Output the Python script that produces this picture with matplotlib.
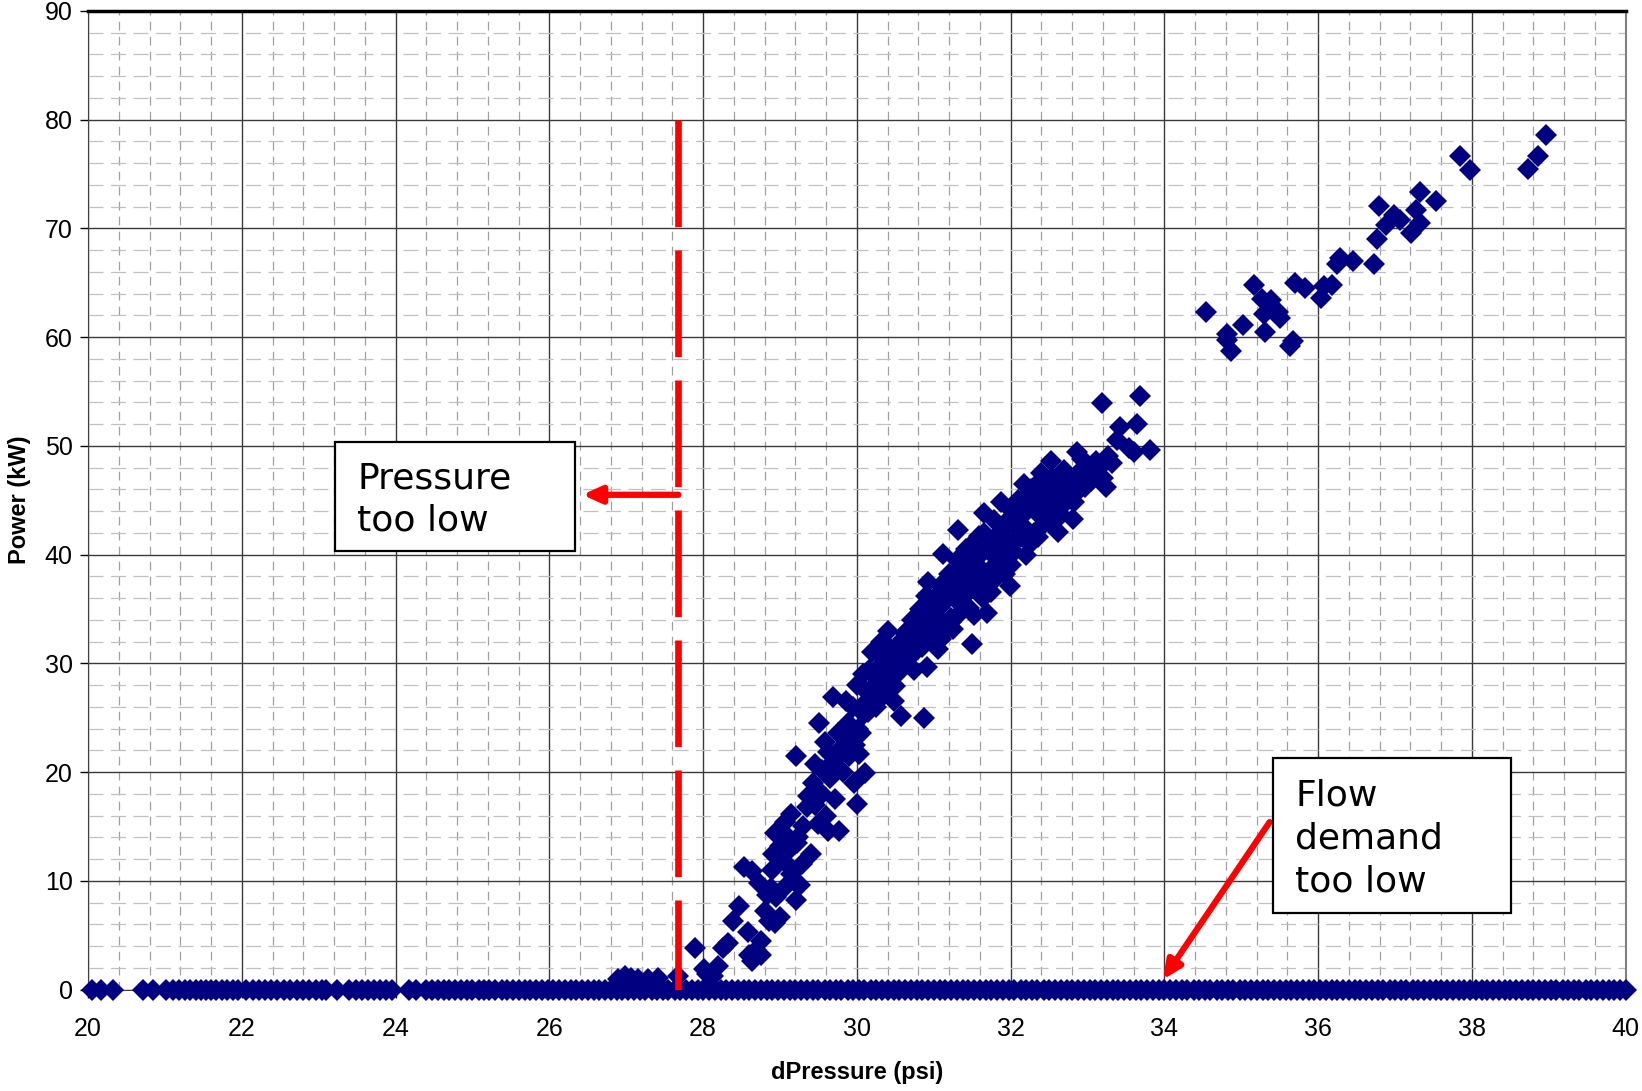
import matplotlib
matplotlib.use("Agg")
import matplotlib.pyplot as plt
from matplotlib.patches import Rectangle
from matplotlib.ticker import MultipleLocator

# ---------------- data ----------------
# points lying at zero power (compressor off)
zero_x = [20.05, 20.17, 20.32, 20.71, 20.85, 21.02, 21.1, 21.18, 21.26, 21.33, 21.4, 21.47,
          21.54, 21.6, 21.67, 21.74, 21.81, 21.88, 21.95, 22.06, 22.14, 22.22, 22.3, 22.38,
          22.46, 22.55, 22.63, 22.72, 22.8, 22.88, 22.96, 23.04, 23.1, 23.24, 23.4, 23.48,
          23.56, 23.64, 23.72, 23.8, 23.88, 23.96, 24.18, 24.27, 24.4, 24.48, 24.55, 24.63,
          24.7, 24.78, 24.85, 24.93, 25.0, 25.08, 25.15, 25.22, 25.3, 25.38, 25.45, 25.53,
          25.6, 25.68, 25.75, 25.83, 25.9, 25.98, 26.05, 26.13, 26.2, 26.28, 26.35, 26.43,
          26.5, 26.58, 26.65, 26.73, 26.8, 26.88, 26.95, 27.03, 27.1, 27.18, 27.25, 27.33,
          27.4, 27.48, 27.55, 27.63, 27.7, 27.78, 27.85, 27.93, 28.0, 28.08, 28.15, 28.23,
          28.3, 28.38, 28.45, 28.53, 28.6, 28.68, 28.75, 28.83, 28.9, 28.98, 29.05, 29.13,
          29.2, 29.28, 29.35, 29.43, 29.5, 29.58, 29.65, 29.73, 29.8, 29.88, 29.95, 30.03,
          30.1, 30.18, 30.25, 30.33, 30.4, 30.48, 30.55, 30.63, 30.7, 30.78, 30.85, 30.93,
          31.0, 31.08, 31.15, 31.23, 31.3, 31.38, 31.45, 31.53, 31.6, 31.68, 31.75, 31.83,
          31.9, 31.98, 32.05, 32.13, 32.2, 32.28, 32.35, 32.43, 32.5, 32.58, 32.65, 32.73,
          32.8, 32.88, 32.95, 33.03, 33.1, 33.18, 33.25, 33.33, 33.4, 33.48, 33.55, 33.63,
          33.7, 33.78, 33.85, 33.93, 34.0, 34.08, 34.15, 34.23, 34.3, 34.38, 34.45, 34.53,
          34.6, 34.68, 34.75, 34.83, 34.9, 34.98, 35.05, 35.13, 35.2, 35.28, 35.35, 35.43,
          35.5, 35.58, 35.65, 35.73, 35.8, 35.88, 35.95, 36.03, 36.1, 36.18, 36.25, 36.33,
          36.4, 36.48, 36.55, 36.63, 36.7, 36.78, 36.85, 36.93, 37.0, 37.08, 37.15, 37.23,
          37.3, 37.38, 37.45, 37.53, 37.6, 37.68, 37.75, 37.83, 37.9, 37.98, 38.05, 38.13,
          38.2, 38.28, 38.35, 38.43, 38.5, 38.58, 38.65, 38.73, 38.8, 38.88, 38.95, 39.03,
          39.1, 39.18, 39.25, 39.33, 39.4, 39.48, 39.55, 39.63, 39.7, 39.78, 39.85, 39.93, 40.0]

# low-power points just above zero
low_x = [26.89, 26.98, 27.06, 27.15, 27.28, 27.42, 27.68]
low_y = [1.0, 1.2, 1.1, 1.0, 1.0, 1.1, 1.2]

# main operating cluster
run_x = [27.90, 28.01, 28.05, 28.13, 28.20, 28.26, 28.32, 28.39, 28.47, 28.53, 28.58, 28.60,
         28.64, 28.69, 28.75, 28.76, 28.64, 28.73, 28.83, 28.88, 28.81, 28.86, 28.94, 29.00,
         28.91, 28.94, 29.00, 29.07, 29.10, 29.15, 29.21, 29.24, 29.29, 29.26, 29.21, 29.14,
         29.05, 29.35, 29.37, 29.43, 29.50, 29.62, 29.59, 29.55, 29.45, 29.62, 29.69, 29.51,
         29.76, 29.77, 29.86, 29.89, 29.92, 29.96, 30.00, 30.03, 30.11, 30.05, 30.10, 30.16,
         30.23, 30.30, 30.33, 30.41, 30.44, 30.50, 30.57, 30.60, 30.55, 30.68, 30.71, 30.74,
         30.79, 30.84, 30.87, 30.91, 30.93, 30.98, 31.01, 31.05, 31.09, 31.12, 31.19, 31.23,
         31.25, 31.29, 31.32, 31.36, 31.39, 31.46, 31.50, 31.53, 31.55, 31.59, 31.63, 31.66,
         31.69, 31.74, 31.77, 31.80, 31.87, 31.89, 31.93, 31.96, 31.99, 32.02, 32.07, 32.14,
         32.18, 32.21, 32.25, 32.29, 32.34, 32.40, 32.44, 32.48, 32.52, 32.56, 32.62, 32.64,
         32.68, 32.75, 32.81, 32.86, 32.89, 32.93, 32.97, 33.02, 33.11, 33.19, 33.24, 33.27,
         33.32, 33.38, 33.43, 33.54, 33.61, 33.64, 33.69, 33.81,
         28.90, 28.95, 29.05, 29.12, 29.18, 29.22, 29.30, 29.40, 29.45, 29.55, 29.60, 29.65,
         29.70, 29.72, 29.80, 29.82, 29.85, 29.90, 29.95, 29.98, 30.00, 30.02, 30.08, 30.15,
         30.20, 30.25, 30.32, 30.40, 30.48,
         30.05, 30.12, 30.18, 30.22, 30.27, 30.30, 30.35, 30.38, 30.42, 30.46, 30.50, 30.52,
         30.56, 30.60, 30.63, 30.66, 30.70, 30.72, 30.76, 30.80, 30.82, 30.85, 30.88, 30.90,
         30.94, 30.96, 31.00, 31.02, 31.05, 31.08, 31.10, 31.14, 31.16, 31.20, 31.22, 31.26,
         31.28, 31.30, 31.33, 31.36, 31.40, 31.42, 31.45, 31.48, 31.50, 31.52, 31.56, 31.58,
         31.60, 31.64, 31.66, 31.70, 31.72, 31.76, 31.78, 31.82, 31.84, 31.88, 31.90, 31.94,
         31.97, 32.00, 32.02, 32.05, 32.08, 32.10, 32.13, 32.16, 32.20, 32.22, 32.26, 32.30,
         32.32, 32.36, 32.38, 32.42, 32.46, 32.50, 32.54, 32.58, 32.60, 32.65, 32.70, 32.72,
         32.78, 32.82, 32.90, 32.95, 33.05, 33.10, 33.15, 33.20]
run_y = [3.8, 1.9, 1.4, 1.2, 2.2, 3.8, 4.3, 6.3, 7.7, 11.3, 5.3, 3.2,
         2.6, 3.6, 4.5, 3.2, 10.9, 9.8, 8.7, 9.3, 7.2, 6.3, 6.1, 6.7,
         12.5, 14.4, 13.2, 15.4, 14.0, 16.1, 21.5, 14.0, 11.5, 9.6, 8.2, 10.6,
         9.3, 16.8, 17.8, 19.0, 15.2, 14.6, 22.8, 20.2, 20.7, 21.8, 26.9, 24.5,
         23.6, 14.6, 26.5, 24.5, 23.1, 19.0, 17.1, 21.7, 19.9, 23.6, 25.3, 29.4,
         27.9, 30.8, 26.9, 29.4, 31.3, 27.9, 25.2, 32.2, 30.3, 33.2, 31.3, 29.4,
         34.2, 32.7, 25.0, 29.7, 37.5, 35.6, 33.7, 31.3, 32.2, 40.1, 36.6, 34.2,
         33.2, 38.5, 42.3, 35.6, 37.5, 35.1, 31.8, 39.9, 37.1, 41.7, 38.5, 43.8,
         34.6, 36.6, 41.0, 39.0, 44.8, 42.3, 38.2, 39.9, 37.1, 42.8, 41.4, 44.8,
         46.5, 42.3, 41.0, 45.7, 43.8, 47.5, 42.8, 46.2, 48.6, 45.5, 42.1, 47.2,
         44.6, 45.9, 43.3, 49.4, 47.6, 48.8, 46.2, 48.1, 48.6, 53.9, 46.2, 49.1,
         48.4, 50.5, 51.7, 49.8, 49.4, 52.0, 54.6, 49.6,
         11.0, 8.5, 11.8, 12.8, 10.0, 13.5, 15.0, 12.5, 17.0, 18.0, 16.0, 19.5,
         21.0, 17.5, 22.2, 20.0, 24.0, 21.5, 26.0, 22.5, 28.0, 24.0, 29.0, 25.5,
         31.0, 26.0, 32.0, 33.0, 26.5,
         26.0, 27.5, 26.2, 28.8, 29.6, 27.2, 28.4, 30.2, 28.0, 29.9, 31.0, 29.0,
         31.8, 30.0, 32.8, 30.8, 32.0, 34.0, 31.0, 33.0, 35.0, 31.5, 33.8, 36.2,
         32.5, 34.8, 36.0, 31.8, 34.2, 35.2, 37.2, 33.0, 35.8, 38.2, 33.8, 36.0,
         37.0, 39.5, 34.5, 38.0, 36.2, 40.5, 38.6, 36.8, 41.0, 34.4, 39.0, 37.6,
         40.0, 36.0, 42.0, 38.0, 40.6, 37.5, 43.2, 39.6, 41.5, 38.8, 40.8, 43.0,
         41.2, 39.0, 44.0, 40.2, 42.6, 45.0, 41.6, 43.6, 40.0, 44.2, 46.0, 42.0,
         44.8, 41.6, 46.8, 44.0, 45.0, 43.0, 47.0, 44.2, 46.4, 43.6, 47.8, 45.4,
         46.8, 44.8, 46.0, 47.4, 46.8, 47.2, 48.0, 47.0]

# high-demand points
high_x = [34.54, 34.81, 34.82, 34.87, 35.03, 35.17, 35.27, 35.30, 35.31, 35.39, 35.48, 35.50,
          35.64, 35.67, 35.70, 35.83, 36.04, 36.08, 36.18, 36.24, 36.29, 36.46, 36.73, 36.77,
          36.79, 36.88, 36.99, 37.06, 37.21, 37.28, 37.32, 37.33, 37.53, 37.85, 37.98, 38.73,
          38.86, 38.96]
high_y = [62.3, 59.7, 60.3, 58.7, 61.1, 64.8, 63.5, 62.1, 60.5, 63.4, 62.3, 61.8,
          59.2, 59.6, 65.0, 64.5, 63.6, 64.7, 64.8, 66.7, 67.3, 67.0, 66.7, 69.0,
          72.1, 70.3, 71.2, 70.8, 69.6, 71.7, 73.3, 70.5, 72.5, 76.7, 75.4, 75.5,
          76.7, 78.6]

xs = zero_x + low_x + run_x + high_x
ys = [0.0] * len(zero_x) + low_y + run_y + high_y

x_ticks = [20, 22, 24, 26, 28, 30, 32, 34, 36, 38, 40]
y_ticks = [0, 10, 20, 30, 40, 50, 60, 70, 80, 90]

# ---------------- figure ----------------
fig = plt.figure(figsize=(16.42, 10.91), dpi=100)
ax = fig.add_axes([0.0536, 0.093, 0.9364, 0.897])
ax.set_xlim(20, 40)
ax.set_ylim(0, 90)

ax.xaxis.set_minor_locator(MultipleLocator(0.4))
ax.yaxis.set_minor_locator(MultipleLocator(2))
ax.set_xticks(x_ticks)
ax.set_yticks(y_ticks)

ax.grid(which='major', color='#3a3a3a', linewidth=1.0, linestyle='-')
ax.grid(which='minor', axis='x', color='#a0a0a0', linewidth=0.9, linestyle=(0, (7, 5)))
ax.grid(which='minor', axis='y', color='#c0c0c0', linewidth=0.9, linestyle=(0, (12, 6)))
ax.set_axisbelow(True)

for lbl in ax.get_xticklabels() + ax.get_yticklabels():
    lbl.set_fontfamily('Liberation Sans')
    lbl.set_fontsize(18)
ax.tick_params(which='major', direction='out', length=6, width=1, colors='black')
ax.tick_params(axis='x', which='major', pad=14)
ax.tick_params(axis='y', which='major', pad=5)
ax.tick_params(which='minor', length=0)

ax.spines['top'].set_linewidth(2.5)
ax.spines['top'].set_color('black')
ax.spines['right'].set_color('#808080')
ax.spines['right'].set_linewidth(1.5)
ax.spines['left'].set_color('#404040')
ax.spines['bottom'].set_color('#404040')

ax.set_xlabel('dPressure (psi)', fontfamily='Liberation Sans', fontweight='bold', fontsize=17, labelpad=14)
ax.set_ylabel('Power (kW)', fontfamily='Liberation Sans', fontweight='bold', fontsize=17, labelpad=10)

ax.plot(xs, ys, linestyle='none', marker='D', markersize=11, color='#000080',
        markeredgewidth=0, clip_on=False, zorder=4)

# red dashed limit line
ax.plot([27.68, 27.68], [80, 0], color='#ff0000', linewidth=4.8,
        linestyle=(0, (16, 3.5)), zorder=5, solid_capstyle='butt')

# arrow "Pressure too low"
ax.annotate('', xy=(26.43, 45.5), xytext=(27.68, 45.5),
            arrowprops=dict(arrowstyle='-|>,head_length=1.1,head_width=0.5',
                            color='#ff0000', linewidth=4.5, shrinkA=0, shrinkB=0), zorder=6)
# arrow "Flow demand too low"
ax.annotate('', xy=(33.98, 0.9), xytext=(35.37, 15.4),
            arrowprops=dict(arrowstyle='-|>,head_length=1.1,head_width=0.5',
                            color='#ff0000', linewidth=4.5, shrinkA=0, shrinkB=0), zorder=6)

# text boxes
ax.add_patch(Rectangle((23.215, 40.3), 3.12, 10.1, facecolor='white', edgecolor='black',
                       linewidth=1.6, zorder=7))
ax.text(23.50, 45.1, 'Pressure\ntoo low', fontfamily='DejaVu Sans', fontsize=26,
        va='center', ha='left', linespacing=1.3, zorder=8)

ax.add_patch(Rectangle((35.41, 7.0), 3.10, 14.3, facecolor='white', edgecolor='black',
                       linewidth=1.6, zorder=7))
ax.text(35.70, 13.9, 'Flow\ndemand\ntoo low', fontfamily='DejaVu Sans', fontsize=26,
        va='center', ha='left', linespacing=1.32, zorder=8)

fig.savefig('out.png', dpi=100)
